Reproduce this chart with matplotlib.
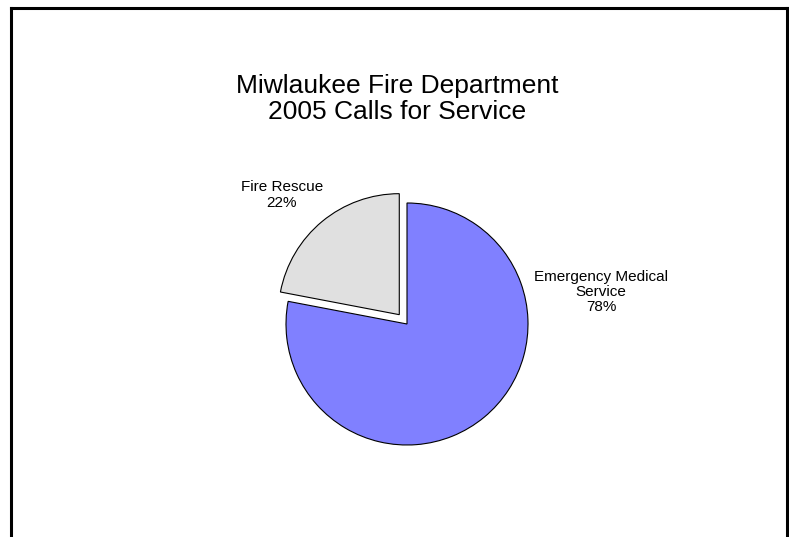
import matplotlib
matplotlib.use('Agg')
import matplotlib.pyplot as plt
from matplotlib.lines import Line2D

plt.rcParams['font.family'] = ['Liberation Sans', 'DejaVu Sans']

# data
categories = ['Fire Rescue', 'Emergency Medical\nService']
shares = [22, 78]
colors = ['#E0E0E0', '#8080FF']
title = 'Miwlaukee Fire Department\n2005 Calls for Service'

W, H = 789, 537
fig = plt.figure(figsize=(W / 100, H / 100), dpi=100)
ax = fig.add_axes([0, 0, 1, 1])

r = 121
ax.pie(shares, colors=colors, startangle=90, counterclock=True,
       explode=[0.1 * r, 0], center=(407, H - 324), radius=r,
       wedgeprops=dict(edgecolor='black', linewidth=0.8))
ax.set_xlim(0, W)
ax.set_ylim(0, H)
ax.set_aspect('equal')
ax.axis('off')

# chart frame (bottom edge falls outside the picture)
def px(x, y):
    return x / W, 1 - y / H

for (x0, y0), (x1, y1) in [((10.5, 600), (10.5, 8)), ((10.5, 8), (786.5, 8)), ((786.5, 8), (786.5, 600))]:
    a, b = px(x0, y0)
    c, d = px(x1, y1)
    fig.add_artist(Line2D([a, c], [b, d], color='black', lw=2.2, solid_capstyle='projecting'))

label_pos = [(282, 195), (601, 292)]
for cat, s, (lx, ly) in zip(categories, shares, label_pos):
    ax.text(lx, H - ly, '%s\n%d%%' % (cat, s), ha='center', va='center',
            fontsize=11, linespacing=1.1)

ax.text(397, H - 99, title, ha='center', va='center', fontsize=19, linespacing=1.15)

fig.savefig('out.png', dpi=100)
